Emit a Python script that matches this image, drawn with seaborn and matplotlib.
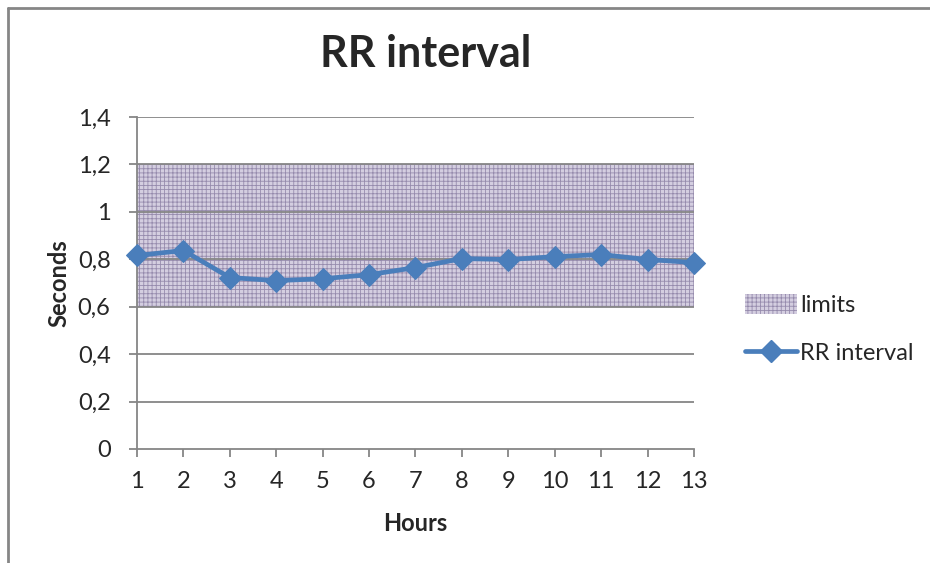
import matplotlib
matplotlib.use("Agg")
import matplotlib.pyplot as plt
from matplotlib.lines import Line2D
from matplotlib.patches import Patch
import seaborn as sns
import pandas as pd

hours = [1, 2, 3, 4, 5, 6, 7, 8, 9, 10, 11, 12, 13]
rr_interval = [0.816, 0.837, 0.723, 0.710, 0.718, 0.735, 0.765,
               0.803, 0.799, 0.811, 0.820, 0.799, 0.786]
limit_low = 0.6
limit_high = 1.2
y_ticks = [0, 0.2, 0.4, 0.6, 0.8, 1.0, 1.2, 1.4]
y_tick_labels = ["0", "0,2", "0,4", "0,6", "0,8", "1", "1,2", "1,4"]

df = pd.DataFrame({"Hours": hours, "RR interval": rr_interval})

sns.set_theme(style="white")
plt.rcParams["font.family"] = ["Lato", "DejaVu Sans"]
plt.rcParams["hatch.linewidth"] = 0.6

line_blue = "#4a7ebb"
grid_gray = "#868686"
band_face = "#d4cee0"
band_hatch = "#968bad"

fig = plt.figure(figsize=(9.3, 5.63), dpi=100)
ax = fig.add_axes([0.1473, 0.2025, 0.7462 - 0.1473, 0.7922 - 0.2025])

# normal-range band
ax.axhspan(limit_low, limit_high, facecolor=band_face, edgecolor=band_hatch,
           hatch="++++", linewidth=0, zorder=1)

for yv in y_ticks[1:]:
    ax.axhline(yv, color=grid_gray, linewidth=1.3, zorder=2)

sns.lineplot(data=df, x="Hours", y="RR interval", ax=ax, color=line_blue,
             linewidth=3.4, marker="D", markersize=11.5, markeredgecolor=line_blue,
             zorder=5, clip_on=False)

ax.set_xlim(1, 13)
ax.set_ylim(0, 1.4)
ax.set_xticks(hours)
ax.set_xticklabels([str(h) for h in hours], fontsize=17)
ax.set_yticks(y_ticks)
ax.set_yticklabels(y_tick_labels, fontsize=17)
ax.tick_params(axis="both", direction="out", length=6, width=1.3,
               color=grid_gray, left=True, bottom=True)
ax.tick_params(axis="x", pad=10)
ax.tick_params(axis="y", pad=13)

for side in ["top", "right"]:
    ax.spines[side].set_visible(False)
for side in ["left", "bottom"]:
    ax.spines[side].set_color(grid_gray)
    ax.spines[side].set_linewidth(1.3)

ax.set_xlabel("Hours", fontsize=17, fontweight="bold", labelpad=14)
ax.set_ylabel("Seconds", fontsize=17, fontweight="bold", labelpad=5)
fig.text(426 / 930, 1 - 67 / 563, "RR interval", fontsize=31,
         fontweight="bold", ha="center", va="baseline")

handles = [
    Patch(facecolor=band_face, edgecolor=band_hatch, hatch="++++", linewidth=0),
    Line2D([0], [0], color=line_blue, linewidth=3.4, marker="D", markersize=11.5),
]
fig.legend(handles, ["limits", "RR interval"], loc="center left",
           bbox_to_anchor=(0.801, 0.415), frameon=False, fontsize=17,
           handlelength=2.2, handleheight=0.9, handletextpad=0.15,
           labelspacing=1.1, borderaxespad=0, borderpad=0)

# outer chart frame
fig.add_artist(Line2D([8 / 930, 1.0], [1 - 8 / 563, 1 - 8 / 563],
                      transform=fig.transFigure, color=grid_gray, linewidth=2))
fig.add_artist(Line2D([8 / 930, 8 / 930], [0.0, 1 - 8 / 563],
                      transform=fig.transFigure, color=grid_gray, linewidth=2))

fig.savefig("out.png", dpi=100)
